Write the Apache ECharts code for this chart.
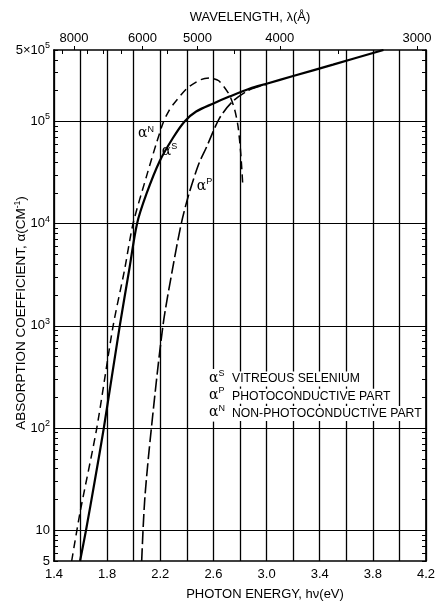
<!DOCTYPE html>
<html><head><meta charset="utf-8">
<script src="https://cdn.jsdelivr.net/npm/echarts@6/dist/echarts.min.js"></script>
<style>html,body{margin:0;padding:0;background:#fff}#c{width:437px;height:602px}</style>
</head><body><div id="c"></div>
<script>
// ---- data (photon energy eV, absorption coefficient cm^-1) ----
const alphaS = [[1.596,5],[1.641,10],[1.708,31],[1.775,100],[1.895,1000],[1.965,3470],[2.025,10000],[2.095,19400],[2.195,40800],[2.295,68900],[2.383,100000],[2.47,125000],[2.6,150000],[2.72,175000],[2.875,210000],[3.0,234000],[3.2,278000],[3.5,360000],[3.88,500000]];
const alphaP = [[2.06,5],[2.083,20],[2.133,100],[2.22,1000],[2.29,3470],[2.358,10000],[2.415,19400],[2.49,38500],[2.545,55000],[2.645,107000],[2.745,157000],[2.875,205000],[3.0,230000]];
const alphaN = [[1.533,5],[1.596,14.9],[1.722,100],[1.845,1000],[1.93,3470],[1.995,10000],[2.095,28700],[2.17,60700],[2.225,100000],[2.265,127000],[2.3,148000],[2.4,210000],[2.5,255000],[2.57,266000],[2.64,250000],[2.72,182000],[2.76,130000],[2.785,90000],[2.805,50000],[2.82,25000]];
const energyTickLabels = [1.4,1.8,2.2,2.6,3.0,3.4,3.8,4.2];
const wavelengthMajor = [8000,6000,5000,4000,3000];
const wavelengthMinor = [8500,7500,7000,6500,5500,4500,3500];
const yLabelValues = [5,10,100,1000,10000,100000,500000];
const yDecades = [10,100,1000,10000,100000];
const legendRows = [['S','VITREOUS SELENIUM'],['P','PHOTOCONDUCTIVE PART'],['N','NON-PHOTOCONDUCTIVE PART']];

const HC = 12398.4; // eV·Å
const yMinor = [];
for (let d = 1; d <= 100000; d *= 10) for (let m = 1; m <= 9; m++) { const v = m*d; if (v >= 5 && v <= 500000) yMinor.push(v); }

const FONT = 'Liberation Sans';
const supRich = { a:{fontSize:14, lineHeight:18, fontFamily:'DejaVu Serif', color:'#000'}, s:{fontSize:9, lineHeight:9, verticalAlign:'top', fontFamily:FONT, color:'#000'} };
const axisLine = { show:true, lineStyle:{color:'#000', width:1.7} };

const chart = echarts.init(document.getElementById('c'), null, {renderer:'canvas'});
const labelPts = { N:[2.093,76000], S:[2.27,51000], P:[2.533,23300] };
function mk(key){ return { symbol:'circle', symbolSize:0, silent:true, data:[{coord:labelPts[key], label:{show:true, position:'inside', formatter:'{a|α}{s|'+key+'}', rich:supRich}}] }; }

chart.setOption({
  animation:false,
  backgroundColor:'#fff',
  grid:{left:54, right:11, top:50, bottom:41, containLabel:false, outerBoundsMode:'none'},
  xAxis:[
    { type:'value', min:1.4, max:4.2, interval:0.2, position:'bottom',
      name:'PHOTON ENERGY, hν(eV)', nameLocation:'middle', nameGap:27, nameMoveOverlap:false,
      nameTextStyle:{fontFamily:FONT, fontSize:13, color:'#000', padding:[0,0,0,50]},
      axisLine:axisLine, axisTick:{show:false},
      axisLabel:{fontFamily:FONT, fontSize:13, color:'#000', margin:7, showMinLabel:true, showMaxLabel:true,
        formatter:v=>{ const r=Math.round(v*10)/10; return energyTickLabels.some(t=>Math.abs(t-r)<1e-6)? r.toFixed(1):''; }},
      splitLine:{show:true, lineStyle:{color:'#000', width:1.3}} },
    { type:'value', min:1.4, max:4.2, position:'top',
      name:'WAVELENGTH, λ(Å)', nameLocation:'middle', nameGap:26, nameMoveOverlap:false,
      nameTextStyle:{fontFamily:FONT, fontSize:13, color:'#000', padding:[0,0,0,20]},
      axisLine:axisLine,
      axisTick:{show:true, inside:false, length:4, customValues:wavelengthMajor.map(l=>HC/l), lineStyle:{color:'#000', width:1}},
      axisLabel:{show:true, fontFamily:FONT, fontSize:13, color:'#000', margin:5, customValues:wavelengthMajor.map(l=>HC/l),
        formatter:v=>String(Math.round(HC/v/100)*100)},
      splitLine:{show:false} },
    { type:'value', min:1.4, max:4.2, position:'top',
      axisLine:{show:false},
      axisTick:{show:true, inside:true, length:4, customValues:wavelengthMinor.map(l=>HC/l), lineStyle:{color:'#000', width:1}},
      axisLabel:{show:false}, splitLine:{show:false} }
  ],
  yAxis:[
    { type:'log', logBase:10, min:5, max:500000, position:'left',
      name:'ABSORPTION COEFFICIENT, α(CM{s|-1})', nameLocation:'middle', nameGap:25, nameMoveOverlap:false,
      nameTextStyle:{fontFamily:FONT, fontSize:13.5, color:'#000', padding:[0,15,0,0], lineHeight:16,
        rich:{s:{fontSize:8.5, lineHeight:8, verticalAlign:'top', fontFamily:FONT, color:'#000'}}},
      axisLine:axisLine,
      axisTick:{show:true, inside:true, length:5, customValues:yDecades, lineStyle:{color:'#000'}},
      axisLabel:{show:true, fontFamily:FONT, fontSize:13, color:'#000', margin:4, lineHeight:18,
        customValues:yLabelValues,
        rich:{s:{fontSize:9, lineHeight:9, verticalAlign:'top', fontFamily:FONT, color:'#000'}},
        formatter:v=>{ if (Math.abs(v-5)<1e-6) return '5'; if (Math.abs(v-10)<1e-6) return '10';
          if (Math.abs(v-500000)<1) return '5×10{s|5}'; return '10{s|'+Math.round(Math.log10(v))+'}'; }},
      splitLine:{show:true, lineStyle:{color:'#000', width:1}} },
    { type:'log', logBase:10, min:5, max:500000, position:'left',
      axisLine:{show:false}, axisLabel:{show:false}, splitLine:{show:false},
      axisTick:{show:true, inside:true, length:4, customValues:yMinor, lineStyle:{color:'#000'}} },
    { type:'log', logBase:10, min:5, max:500000, position:'right',
      axisLine:axisLine, axisLabel:{show:false}, splitLine:{show:false},
      axisTick:{show:true, inside:true, length:4, customValues:yMinor, lineStyle:{color:'#000'}} }
  ],
  series:[
    { name:'αS', type:'line', xAxisIndex:0, yAxisIndex:0, data:alphaS, showSymbol:false, smooth:0.3,
      lineStyle:{color:'#000', width:2.2}, markPoint:mk('S') },
    { name:'αP', type:'line', xAxisIndex:0, yAxisIndex:0, data:alphaP, showSymbol:false, smooth:0.3,
      lineStyle:{color:'#000', width:1.6, type:[13,4]}, markPoint:mk('P') },
    { name:'αN', type:'line', xAxisIndex:0, yAxisIndex:0, data:alphaN, showSymbol:false, smooth:0.25,
      lineStyle:{color:'#000', width:1.5, type:[8,5]}, markPoint:mk('N') }
  ],
  graphic: legendRows.flatMap((r,i)=>{
    const cy = 379 + i*17.3;
    return [
      { type:'text', left:208, top:cy-10, z:100, style:{ text:'{a|α}{s|'+r[0]+'}', rich:supRich, backgroundColor:'#fff', padding:[0,1] } },
      { type:'text', left:231, top:cy-7.5, z:100, style:{ text:r[1], fontFamily:FONT, fontSize:12.2, fill:'#000', backgroundColor:'#fff', padding:[1,1], lineHeight:13 } }
    ];
  })
});
</script></body></html>
